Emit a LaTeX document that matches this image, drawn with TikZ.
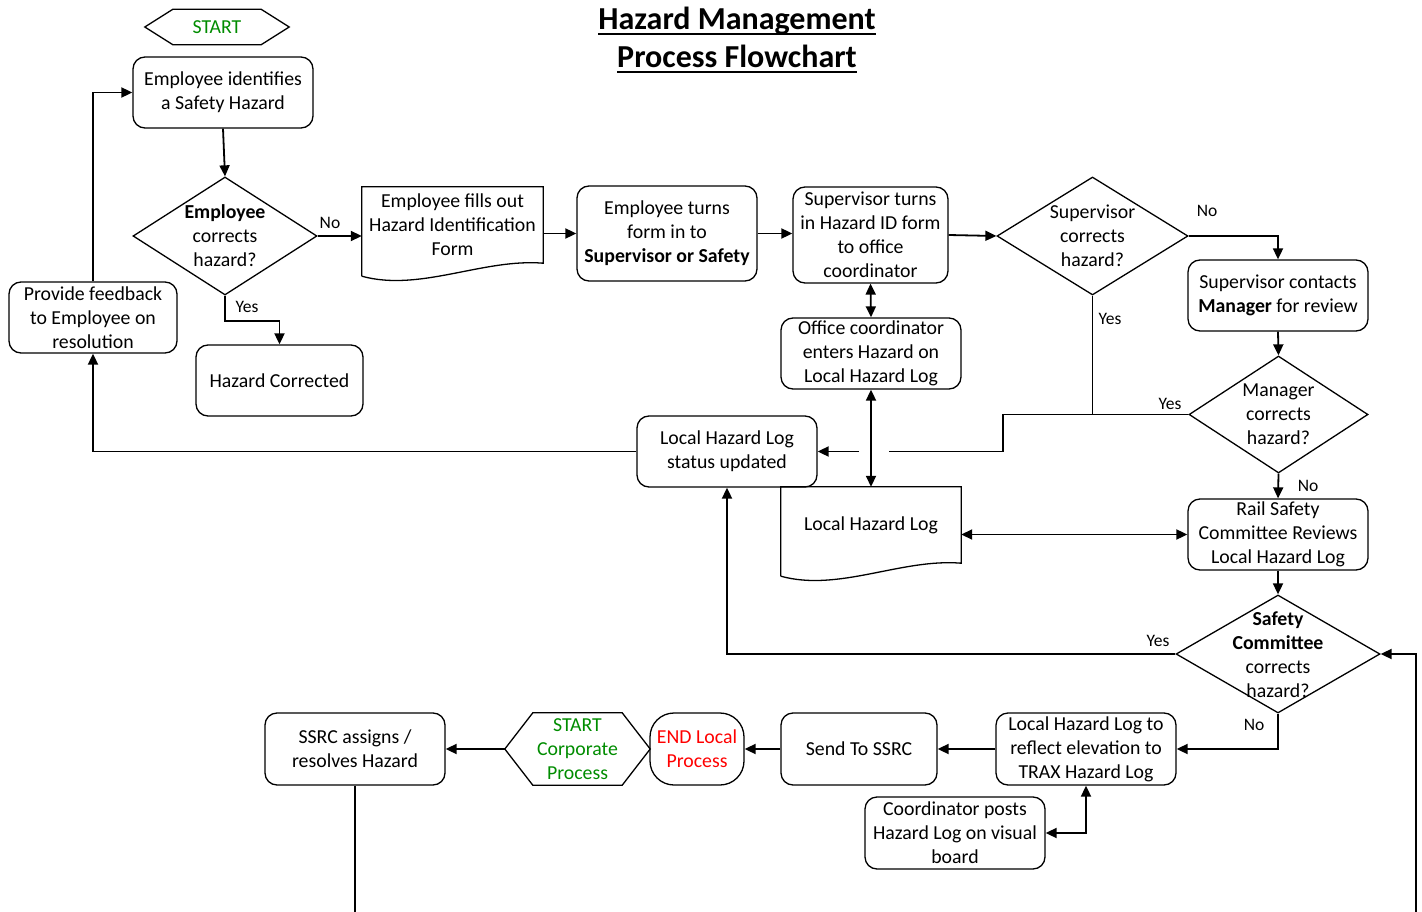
\documentclass[tikz,border=0pt]{standalone}
\usepackage{fontspec}
\setmainfont{Carlito}
\usetikzlibrary{arrows.meta,shapes.geometric}
\definecolor{startgreen}{RGB}{0,140,0}
\definecolor{endred}{RGB}{255,0,0}
\begin{document}
\begin{tikzpicture}[x=1pt,y=-1pt,
  every node/.style={font=\fontsize{19.8}{24}\selectfont, inner sep=0pt},
  outline/.style={draw, line width=1.3pt},
  box/.style 2 args={outline, rounded corners=12pt, minimum width=#1, minimum height=#2, align=center},
  frame/.style 2 args={minimum width=#1, minimum height=#2, align=center},
  dia/.style 2 args={outline, diamond, minimum width=#1, minimum height=#2},
  conn/.style={line width=1.8pt},
  arr/.style={conn, -{Triangle[length=11pt,width=10pt]}},
  darr/.style={conn, {Triangle[length=11pt,width=10pt]}-{Triangle[length=11pt,width=10pt]}},
  lbl/.style={font=\fontsize{17.5}{20}\selectfont},
  ttl/.style={font=\fontsize{32}{38}\selectfont\bfseries, anchor=base}
]
\useasboundingbox (0,0) rectangle (1422,912);

% Title
\node[ttl] (t1) at (737,30) {Hazard Management};
\node[ttl] (t2) at (737,68) {Process Flowchart};
\draw[line width=2pt] ([yshift=-4pt]t1.base west) -- ([yshift=-4pt]t1.base east);
\draw[line width=2pt] ([yshift=-4pt]t2.base west) -- ([yshift=-4pt]t2.base east);

% START hexagon
\node[frame={144}{35}, text=startgreen] (hex1) at (217,27) {START};
\draw[outline] (hex1.west) -- ([xshift=28pt]hex1.north west) -- ([xshift=-28pt]hex1.north east) -- (hex1.east) -- ([xshift=-28pt]hex1.south east) -- ([xshift=28pt]hex1.south west) -- cycle;

% Nodes
\node[box={180}{71}] (n1) at (223,92.5) {Employee identifies\\a Safety Hazard};

\node[dia={184}{118}] (d1) at (225,236) {};
\node[align=center] at (d1) {\textbf{Employee}\\corrects\\hazard?};

\node[frame={181}{76}] (doc1) at (452.5,225) {Employee fills out\\Hazard Identification\\Form};
\draw[outline] ([yshift=-13pt]doc1.south west) -- (doc1.north west) -- (doc1.north east) -- (doc1.south east)
  .. controls +(-60,-5) and +(58,16) .. ([yshift=-13pt]doc1.south west);

\node[box={180}{95}] (n2) at (667,233.5) {Employee turns\\form in to\\\textbf{Supervisor or Safety}};
\node[box={155}{96}] (n3) at (870.5,235) {Supervisor turns\\in Hazard ID form\\to office\\coordinator};

\node[dia={191}{118}] (d2) at (1092.5,236) {};
\node[align=center] at (d2) {Supervisor\\corrects\\hazard?};

\node[box={180}{71}] (n4) at (1278,295.5) {Supervisor contacts\\\textbf{Manager} for review};

\node[dia={179}{117}] (d3) at (1278.5,414.5) {};
\node[align=center] at (d3) {Manager\\corrects\\hazard?};

\node[box={180}{71}] (n5) at (871,353.5) {Office coordinator\\enters Hazard on\\Local Hazard Log};
\node[box={180}{71}] (n6) at (727,451.5) {Local Hazard Log\\status updated};
\node[box={168}{71}] (n7) at (93,317.5) {Provide feedback\\to Employee on\\resolution};
\node[box={167}{71}] (n8) at (279.5,380.5) {Hazard Corrected};

\node[frame={180}{76}] (doc2) at (871,525) {Local Hazard Log};
\draw[outline] ([yshift=-13pt]doc2.south west) -- (doc2.north west) -- (doc2.north east) -- (doc2.south east)
  .. controls +(-60,-5) and +(58,16) .. ([yshift=-13pt]doc2.south west);

\node[box={180}{71}] (n9) at (1278,534.5) {Rail Safety\\Committee Reviews\\Local Hazard Log};

\node[dia={204}{118}] (d4) at (1278,654) {};
\node[align=center] at (1278,655) {\textbf{Safety}\\\textbf{Committee}\\corrects\\hazard?};

\node[box={180}{72}] (n10) at (1086,749) {Local Hazard Log to\\reflect elevation to\\TRAX Hazard Log};
\node[box={156}{72}] (n11) at (859,749) {Send To SSRC};
\node[box={94}{72}, rounded corners=24pt, text=endred] (n12) at (697,749) {END Local\\Process};
\node[frame={145}{72}, text=startgreen] (hex2) at (577.5,749) {START\\Corporate\\Process};
\draw[outline] (hex2.west) -- ([xshift=28pt]hex2.north west) -- ([xshift=-28pt]hex2.north east) -- (hex2.east) -- ([xshift=-28pt]hex2.south east) -- ([xshift=28pt]hex2.south west) -- cycle;
\node[box={180}{72}] (n13) at (355,749) {SSRC assigns /\\resolves Hazard};
\node[box={180}{72}] (n14) at (955,833) {Coordinator posts\\Hazard Log on visual\\board};

% helper coordinates
\coordinate (br) at (1416,912);
\coordinate (bl) at (355,912);
\coordinate (j1) at (1003,414.5);
\coordinate (j2) at (1003,451.5);
\coordinate (g1) at (889,451.5);
\coordinate (g2) at (859,451.5);

% Connectors
\draw[arr] (n1.south) -- (d1.north);
\draw[arr] (d1.east) -- (d1.east -| doc1.west);
\node[lbl] at (330,223) {No};
\draw[arr] (doc1.east |- n2.west) -- (n2.west);
\draw[arr] (n2.east) -- (n2.east -| n3.west);
\draw[arr] (n3.east) -- (d2.west);
\draw[arr] (d2.east) -| (n4.north);
\node[lbl] at (1207,211) {No};
\draw[arr] (n4.south) -- (d3.north);
\draw[arr] (d3.south) -- (n9.north);
\node[lbl] at (1308,486) {No};
\draw[arr] (n9.south) -- (d4.north);
\draw[arr] (br) |- (d4.east);
\draw[arr] (d4.west) -| (n6.south);
\node[lbl] at (1158,641) {Yes};
\draw[arr] (d4.south) |- (n10.east);
\node[lbl] at (1254,725) {No};
\draw[arr] (n10.west) -- (n11.east);
\draw[arr] (n11.west) -- (n12.east);
\draw[arr] (hex2.west) -- (n13.east);
\draw[conn] (n13.south) -- (bl);
\draw[darr] (n10.south) |- (n14.east);
\draw[darr] (n3.south) -- (n5.north);
\draw[darr] (n5.south) -- (doc2.north);
\draw[darr] (doc2.east |- n9.west) -- (n9.west);
\draw[conn] (d3.west) -- (j1) -- (j2) -- (g1);
\draw[arr] (g2) -- (n6.east);
\node[lbl] at (1170,404) {Yes};
\draw[conn] (d2.south) -- (d2.south |- d3.west);
\node[lbl] at (1110,319) {Yes};
\draw[arr] (n6.west) -| (n7.south);
\draw[arr] (n7.north) |- (n1.west);
\draw[arr] (d1.south) -- ++(0,25) -| (n8.north);
\node[lbl] at (247,307) {Yes};
\end{tikzpicture}
\end{document}
